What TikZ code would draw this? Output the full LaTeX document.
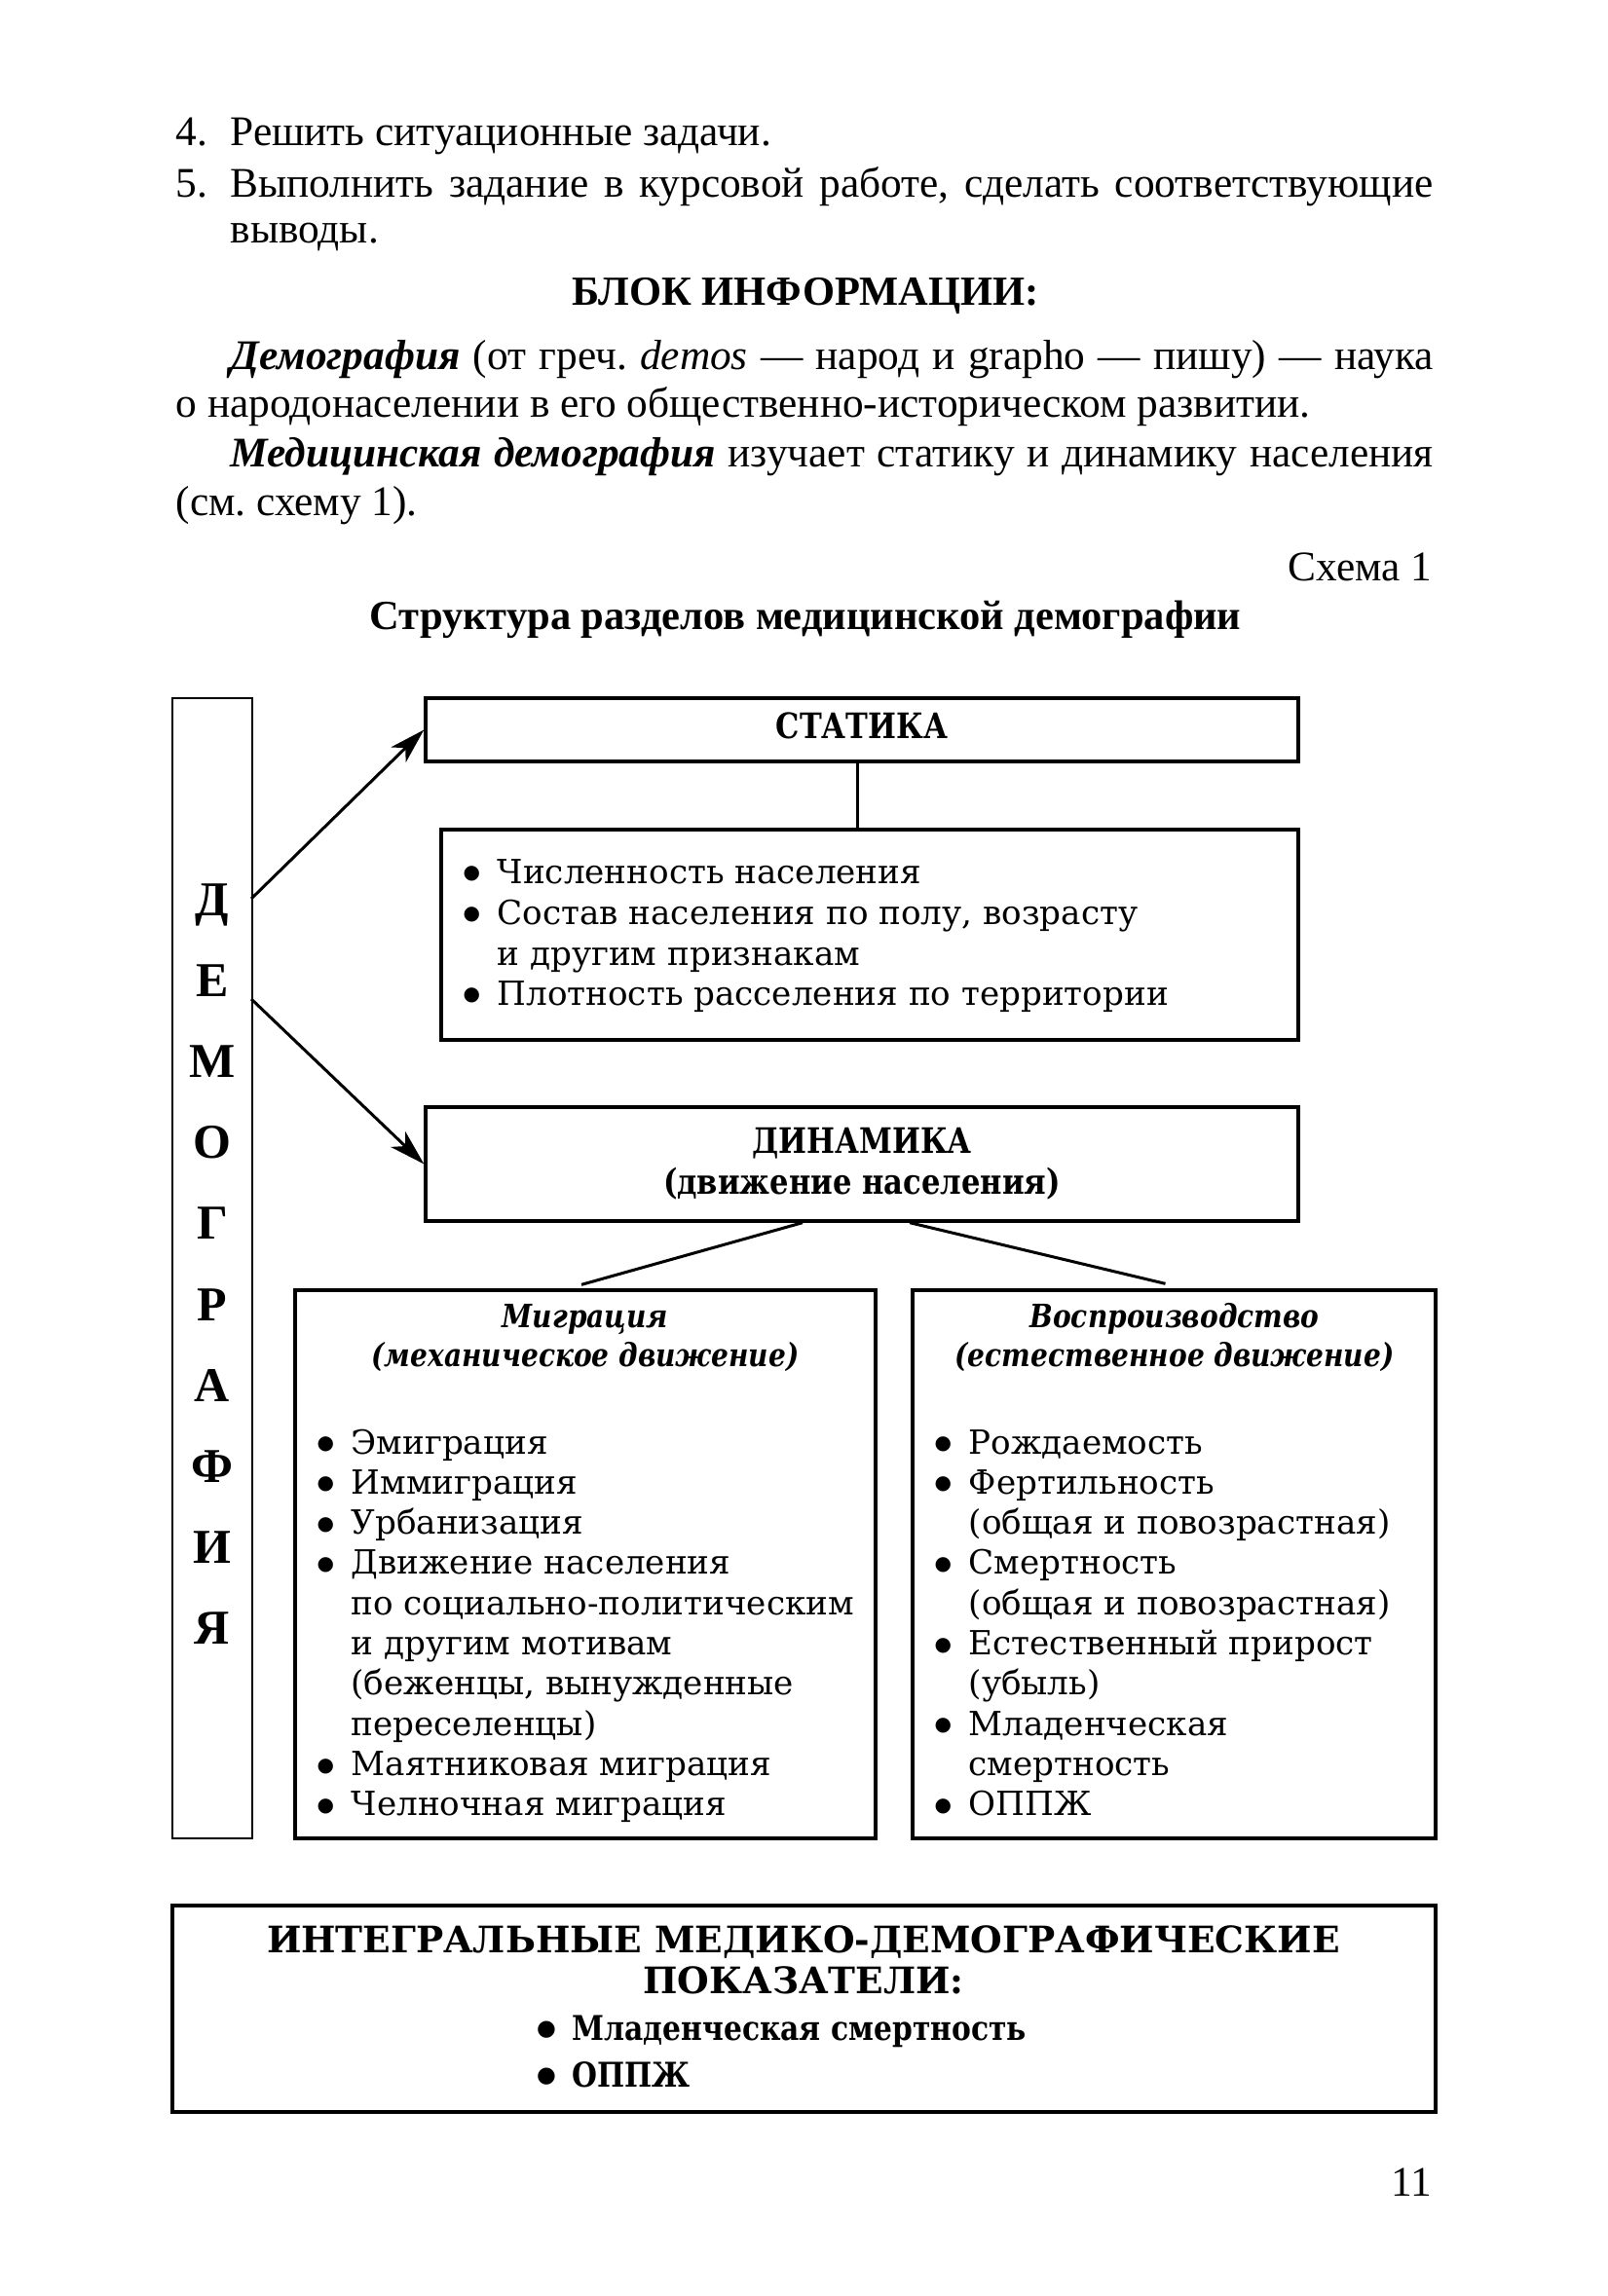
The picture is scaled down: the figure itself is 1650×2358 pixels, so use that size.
\documentclass[tikz,border=0pt]{standalone}
\usepackage{fontspec}
\setmainfont{Liberation Serif}
\newfontfamily\sch{DejaVu Serif}
\newfontfamily\schn{DejaVu Serif}[FakeStretch=0.85]
\newfontfamily\dsans{DejaVu Sans}
\usetikzlibrary{arrows.meta,fit,calc}
\newcommand\bl{\llap{\raisebox{1.3pt}{\dsans\fontsize{6}{6}\selectfont ●}\hspace{5.3pt}}}
\newcommand\blb{\llap{\raisebox{1.3pt}{\dsans\fontsize{6.8}{6.8}\selectfont ●}\hspace{5pt}}}
\frenchspacing
\begin{document}
\begin{tikzpicture}[x=0.3pt,y=-0.3pt,
  bx/.style={draw, line width=1pt, inner sep=0pt},
  ln/.style={line width=0.9pt},
  arr/.style={line width=0.9pt, -{Stealth[length=11pt,width=6.5pt,inset=3pt]}},
  body/.style={inner sep=0pt, anchor=base west, font=\fontsize{13}{15}\selectfont},
  bodyc/.style={inner sep=0pt, anchor=base, font=\bfseries\fontsize{12.75}{15}\selectfont},
  dl/.style={inner sep=0pt, anchor=base, font=\bfseries\fontsize{15}{15}\selectfont},
  dt/.style={inner sep=0pt, anchor=base west, font=\sch\fontsize{10.25}{12.6}\selectfont},
  dtb/.style={inner sep=0pt, anchor=base, font=\schn\bfseries\fontsize{10.8}{12.6}\selectfont},
  dti/.style={inner sep=0pt, anchor=base, font=\schn\bfseries\itshape\fontsize{9.9}{12}\selectfont},
  ib/.style={inner sep=0pt, anchor=base, font=\sch\bfseries\fontsize{11.25}{13}\selectfont},
  ibl/.style={inner sep=0pt, anchor=base west, font=\schn\bfseries\fontsize{10.5}{12.6}\selectfont}]
\useasboundingbox (0,0) rectangle (1650,2358);

% ---- top text ----
\node[body] (t1n) at (180,150) {4.};
\node[body] (t1) at (236,150) {Решить ситуационные задачи.};
\node[body] (t2n) at (180,203) {5.};
\node[body] (t2) at (236,203) {\makebox[370.5pt][s]{Выполнить задание в курсовой работе, сделать соответствующие}};
\node[body] (t3) at (236,250) {выводы.};
\node[bodyc] (t4) at (827,314) {БЛОК ИНФОРМАЦИИ:};
\node[body] (t5) at (236,380) {\makebox[370.5pt][s]{\textbf{\textit{Демография}} (от греч. \textit{demos} — народ и grapho — пишу) — наука}};
\node[body] (t6) at (180,429) {о народонаселении в его общественно-историческом развитии.};
\node[body] (t7) at (236,480) {\makebox[370.5pt][s]{\textbf{\textit{Медицинская демография}} изучает статику и динамику населения}};
\node[body] (t8) at (180,530) {(см. схему 1).};
\node[body, anchor=base east] (t9) at (1471,597) {Схема 1};
\node[bodyc] (t10) at (827,647) {Структура разделов медицинской демографии};

% ---- boxes ----
\node[bx, line width=0.8pt, fit={(177,717)(259,1888)}] (dem) {};
\node[bx, fit={(437,717)(1333,782)}] (stat) {};
\node[bx, fit={(453,852)(1333,1068)}] (slist) {};
\node[bx, fit={(437,1137)(1333,1254)}] (dyn) {};
\node[bx, fit={(303,1325)(899,1888)}] (mig) {};
\node[bx, fit={(937,1325)(1474,1888)}] (rep) {};
\node[bx, fit={(177,1957)(1474,2169)}] (integ) {};

% ---- vertical word ----
\foreach \c [count=\i from 0] in {Д,Е,М,О,Г,Р,А,Ф,И,Я}
  \node[dl] (L\i) at (218,940+83.2*\i) {\c};

% ---- connectors ----
\coordinate (a1) at (258,923);
\coordinate (a2) at (258,1026);
\draw[arr] (a1) -- (stat.west);
\draw[arr] (a2) -- (dyn.west);
\draw[ln] ($(stat.south)+(-5,0)$) -- ($(slist.north)+(-13,0)$);
\draw[ln] ($(dyn.south)+(-61,0)$) -- ($(mig.north)+(-4,-4)$);
\draw[ln] ($(dyn.south)+(49,0)$) -- ($(rep.north)+(-9,-5)$);

% ---- statics ----
\node[dtb] (st) at (885,758) {СТАТИКА};
\node[dt] (s1) at (510,907) {\bl Численность населения};
\node[dt] (s2) at (510,949) {\bl Состав населения по полу, возрасту};
\node[dt] (s3) at (510,991) {и другим признакам};
\node[dt] (s4) at (510,1032) {\bl Плотность расселения по территории};

% ---- dynamics ----
\node[dtb] (dy1) at (885,1184) {ДИНАМИКА};
\node[dtb] (dy2) at (885,1226) {(движение населения)};

% ---- migration ----
\node[dti] (mt1) at (601,1363) {Миграция};
\node[dti] (mt2) at (601,1403) {(механическое движение)};
\foreach \t [count=\i from 0] in {\bl Эмиграция, \bl Иммиграция, \bl Урбанизация,
   \bl Движение населения, по социально-политическим, и другим мотивам,
   {(беженцы, вынужденные}, переселенцы), \bl Маятниковая миграция, \bl Челночная миграция}
  \node[dt] (m\i) at (360,1493+41.3*\i) {\t};

% ---- reproduction ----
\node[dti] (rt1) at (1206,1363) {Воспроизводство};
\node[dti] (rt2) at (1206,1403) {(естественное движение)};
\foreach \t [count=\i from 0] in {\bl Рождаемость, \bl Фертильность, (общая и повозрастная),
   \bl Смертность, (общая и повозрастная), \bl Естественный прирост, (убыль),
   \bl Младенческая, смертность, \bl ОППЖ}
  \node[dt] (r\i) at (994,1493+41.3*\i) {\t};

% ---- integral ----
\node[ib] (it1) at (825,2005) {ИНТЕГРАЛЬНЫЕ МЕДИКО-ДЕМОГРАФИЧЕСКИЕ};
\node[ib] (it2) at (825,2047) {ПОКАЗАТЕЛИ:};
\node[ibl] (ib1) at (587,2095) {\blb Младенческая смертность};
\node[ibl] (ib2) at (587,2143) {\blb ОППЖ};

\node[body, anchor=base east] (pg) at (1471,2255) {11};
\end{tikzpicture}
\end{document}
